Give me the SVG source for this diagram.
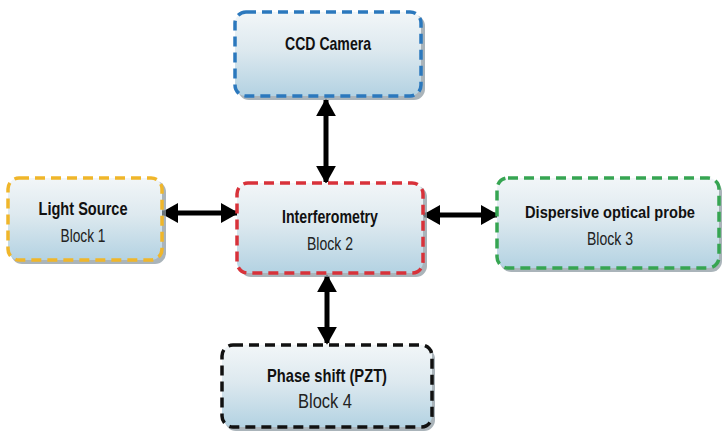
<svg xmlns="http://www.w3.org/2000/svg" width="722" height="438" viewBox="0 0 722 438">
  <defs>
    <linearGradient id="boxFill" x1="0" y1="0" x2="0" y2="1">
      <stop offset="0" stop-color="#f2f6f8"/>
      <stop offset="0.45" stop-color="#dde9ef"/>
      <stop offset="1" stop-color="#b3d2e2"/>
    </linearGradient>
    <marker id="head" viewBox="0 0 10 10" refX="9" refY="5" markerWidth="18" markerHeight="20" markerUnits="userSpaceOnUse" orient="auto-start-reverse" preserveAspectRatio="none">
      <path d="M0,0 L10,5 L0,10 Z" fill="#000"/>
    </marker>
    <style>
      .shadow { fill: #8d9ba3; opacity: 0.75; }
      .box { fill: url(#boxFill); stroke-width: 3.5; stroke-dasharray: 10 6; }
      .title { font-family: "Liberation Sans", Arial, sans-serif; font-weight: bold; font-size: 19px; fill: #111; text-anchor: middle; }
      .sub { font-family: "Liberation Sans", Arial, sans-serif; font-size: 18px; fill: #222; text-anchor: middle; }
      .link { stroke: #000; stroke-width: 5; fill: none; marker-start: url(#head); marker-end: url(#head); }
    </style>
  </defs>

  <rect width="722" height="438" fill="#fff"/>

  <!-- connectors -->
  <g id="connectors">
    <line class="link" x1="326" y1="100" x2="326" y2="182"/>
    <line class="link" x1="162" y1="213" x2="237" y2="213"/>
    <line class="link" x1="424" y1="215" x2="497" y2="215"/>
    <line class="link" x1="327" y1="276" x2="327" y2="343"/>
  </g>

  <g id="ccd-camera">
    <rect class="shadow" x="238" y="15" width="187" height="85" rx="11"/>
    <rect class="box" x="235" y="12" width="186" height="84" rx="11" stroke="#2b78bd"/>
    <text class="title" x="328" y="50" textLength="86" lengthAdjust="spacingAndGlyphs">CCD Camera</text>
  </g>

  <g id="light-source">
    <rect class="shadow" x="11" y="181" width="155" height="83" rx="11"/>
    <rect class="box" x="8" y="178" width="154" height="82" rx="11" stroke="#f0b62a"/>
    <text class="title" x="83" y="215" textLength="89" lengthAdjust="spacingAndGlyphs">Light Source</text>
    <text class="sub" x="83" y="242" textLength="45" lengthAdjust="spacingAndGlyphs">Block 1</text>
  </g>

  <g id="interferometry">
    <rect class="shadow" x="240" y="186" width="187" height="91" rx="11"/>
    <rect class="box" x="237" y="183" width="186" height="90" rx="11" stroke="#d8323a"/>
    <text class="title" x="330" y="223" textLength="96" lengthAdjust="spacingAndGlyphs">Interferometry</text>
    <text class="sub" x="330" y="250" textLength="46" lengthAdjust="spacingAndGlyphs">Block 2</text>
  </g>

  <g id="dispersive-probe">
    <rect class="shadow" x="500" y="181" width="222" height="91" rx="11"/>
    <rect class="box" x="497" y="178" width="222" height="90" rx="11" stroke="#36a552"/>
    <text class="title" x="610" y="218" style="font-size:17px" textLength="170" lengthAdjust="spacingAndGlyphs">Dispersive optical probe</text>
    <text class="sub" x="610" y="245" textLength="46" lengthAdjust="spacingAndGlyphs">Block 3</text>
  </g>

  <g id="phase-shift">
    <rect class="shadow" x="225" y="348" width="210" height="83" rx="11"/>
    <rect class="box" x="222" y="345" width="210" height="82" rx="11" stroke="#111"/>
    <text class="title" x="327" y="382" textLength="120" lengthAdjust="spacingAndGlyphs">Phase shift (PZT)</text>
    <text class="sub" x="325" y="408" style="font-size:21px" textLength="54" lengthAdjust="spacingAndGlyphs">Block 4</text>
  </g>
</svg>
